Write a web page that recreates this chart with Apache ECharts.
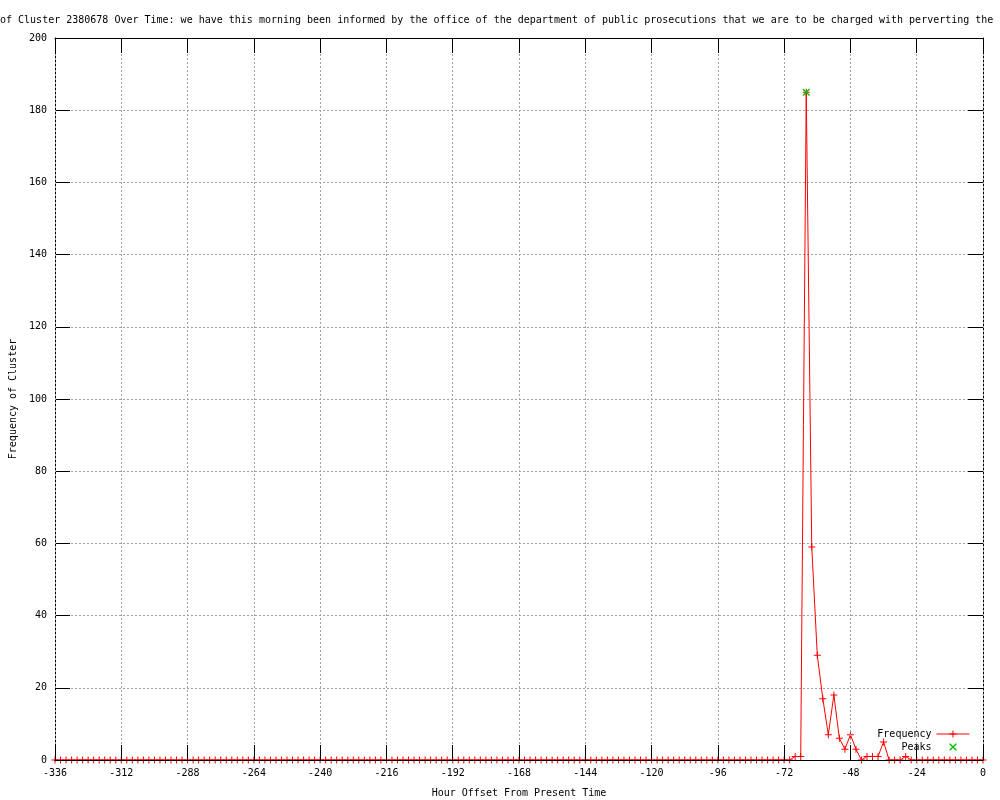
<!DOCTYPE html>
<html>
<head>
<meta charset="utf-8">
<script src="https://cdn.jsdelivr.net/npm/echarts@6/dist/echarts.min.js"></script>
<style>html,body{margin:0;padding:0;background:#fff;overflow:hidden}#c{width:1000px;height:800px}</style>
</head>
<body>
<div id="c"></div>
<script>
const titleText = "of Cluster 2380678 Over Time: we have this morning been informed by the office of the department of public prosecutions that we are to be charged with perverting the c";
const xName = "Hour Offset From Present Time";
const yName = "Frequency of Cluster";

const hours = [
-336,-334,-332,-330,-328,-326,-324,-322,-320,-318,-316,-314,-312,-310,-308,-306,-304,-302,-300,-298,
-296,-294,-292,-290,-288,-286,-284,-282,-280,-278,-276,-274,-272,-270,-268,-266,-264,-262,-260,-258,
-256,-254,-252,-250,-248,-246,-244,-242,-240,-238,-236,-234,-232,-230,-228,-226,-224,-222,-220,-218,
-216,-214,-212,-210,-208,-206,-204,-202,-200,-198,-196,-194,-192,-190,-188,-186,-184,-182,-180,-178,
-176,-174,-172,-170,-168,-166,-164,-162,-160,-158,-156,-154,-152,-150,-148,-146,-144,-142,-140,-138,
-136,-134,-132,-130,-128,-126,-124,-122,-120,-118,-116,-114,-112,-110,-108,-106,-104,-102,-100,-98,
-96,-94,-92,-90,-88,-86,-84,-82,-80,-78,-76,-74,-72,-70,-68,-66,-64,-62,-60,-58,
-56,-54,-52,-50,-48,-46,-44,-42,-40,-38,-36,-34,-32,-30,-28,-26,-24,-22,-20,-18,
-16,-14,-12,-10,-8,-6,-4,-2,0
];
const frequency = [
0,0,0,0,0,0,0,0,0,0,0,0,0,0,0,0,0,0,0,0,
0,0,0,0,0,0,0,0,0,0,0,0,0,0,0,0,0,0,0,0,
0,0,0,0,0,0,0,0,0,0,0,0,0,0,0,0,0,0,0,0,
0,0,0,0,0,0,0,0,0,0,0,0,0,0,0,0,0,0,0,0,
0,0,0,0,0,0,0,0,0,0,0,0,0,0,0,0,0,0,0,0,
0,0,0,0,0,0,0,0,0,0,0,0,0,0,0,0,0,0,0,0,
0,0,0,0,0,0,0,0,0,0,0,0,0,0,1,1,185,59,29,17,
7,18,6,3,7,3,0,1,1,1,5,0,0,0,1,0,0,0,0,0,
0,0,0,0,0,0,0,0,0
];
const peakHours = [-64];
const peakValues = [185];
const xTicks = [-336,-312,-288,-264,-240,-216,-192,-168,-144,-120,-96,-72,-48,-24,0];
const yTicks = [0,20,40,60,80,100,120,140,160,180,200];

const FONT = "'DejaVu Sans Mono', monospace";
const plusPath = 'path://M0,3h7v1h-7z M3,0h1v7h-1z';
const xPath = 'path://M0,0L1,0L7,6L7,7L6,7L0,1Z M6,0L7,0L7,1L1,7L0,7L0,6Z';

const freqData = hours.map((h, i) => [h, frequency[i]]);
const peakData = peakHours.map((h, i) => [h, peakValues[i]]);

const xCommon = {type:'value', min:xTicks[0], max:xTicks[xTicks.length-1], interval:xTicks[1]-xTicks[0]};
const yCommon = {type:'value', min:yTicks[0], max:yTicks[yTicks.length-1], interval:yTicks[1]-yTicks[0]};
const lineBlack = {show:true, onZero:false, lineStyle:{color:'#000', width:1}};
const tickIn = {show:true, inside:true, length:15, lineStyle:{color:'#000', width:1}};
const grid = {show:true, lineStyle:{color:'#a0a0a0', type:[2,2], width:1}};
const txt = {fontFamily:FONT, fontSize:10, color:'#000'};

const chart = echarts.init(document.getElementById('c'), null, {renderer:'canvas'});
chart.setOption({
  animation:false,
  backgroundColor:'#fff',
  title:{text:titleText, left:0, top:15, padding:0, textStyle:Object.assign({fontWeight:'normal'}, txt)},
  grid:{left:55, right:17, top:38, bottom:40, containLabel:false, outerBoundsMode:'none'},
  legend:{
    orient:'vertical', right:30, top:729, padding:0, align:'right', itemWidth:33, itemHeight:9, itemGap:3,
    lineStyle:{width:1},
    textStyle:txt,
    data:['Frequency','Peaks']
  },
  xAxis:[
    Object.assign({}, xCommon, {position:'bottom', z:3, axisLine:lineBlack, axisTick:tickIn, splitLine:grid,
      name:xName, nameLocation:'middle', nameGap:28, nameTextStyle:txt,
      axisLabel:Object.assign({show:true, margin:8}, txt)}),
    Object.assign({}, xCommon, {position:'top', z:3, axisLine:lineBlack, axisTick:tickIn, splitLine:{show:false}, axisLabel:{show:false}})
  ],
  yAxis:[
    Object.assign({}, yCommon, {position:'left', z:1, axisLine:lineBlack, axisTick:tickIn, splitLine:grid,
      name:yName, nameLocation:'middle', nameGap:37, nameRotate:90, nameTextStyle:txt,
      axisLabel:Object.assign({show:true, margin:8}, txt)}),
    Object.assign({}, yCommon, {position:'right', z:1, axisLine:lineBlack, axisTick:tickIn, splitLine:{show:false}, axisLabel:{show:false}})
  ],
  series:[
    {name:'Frequency', type:'line', xAxisIndex:0, yAxisIndex:0, data:freqData, z:2,
      symbol:plusPath, symbolSize:7, showAllSymbol:true,
      lineStyle:{color:'#ff0000', width:1}, itemStyle:{color:'#ff0000'}},
    {name:'Peaks', type:'line', xAxisIndex:0, yAxisIndex:0, data:peakData, z:3,
      symbol:xPath, symbolSize:7,
      lineStyle:{color:'#00c000', width:0, opacity:0}, itemStyle:{color:'#00c000'}}
  ]
});
</script>
</body>
</html>
